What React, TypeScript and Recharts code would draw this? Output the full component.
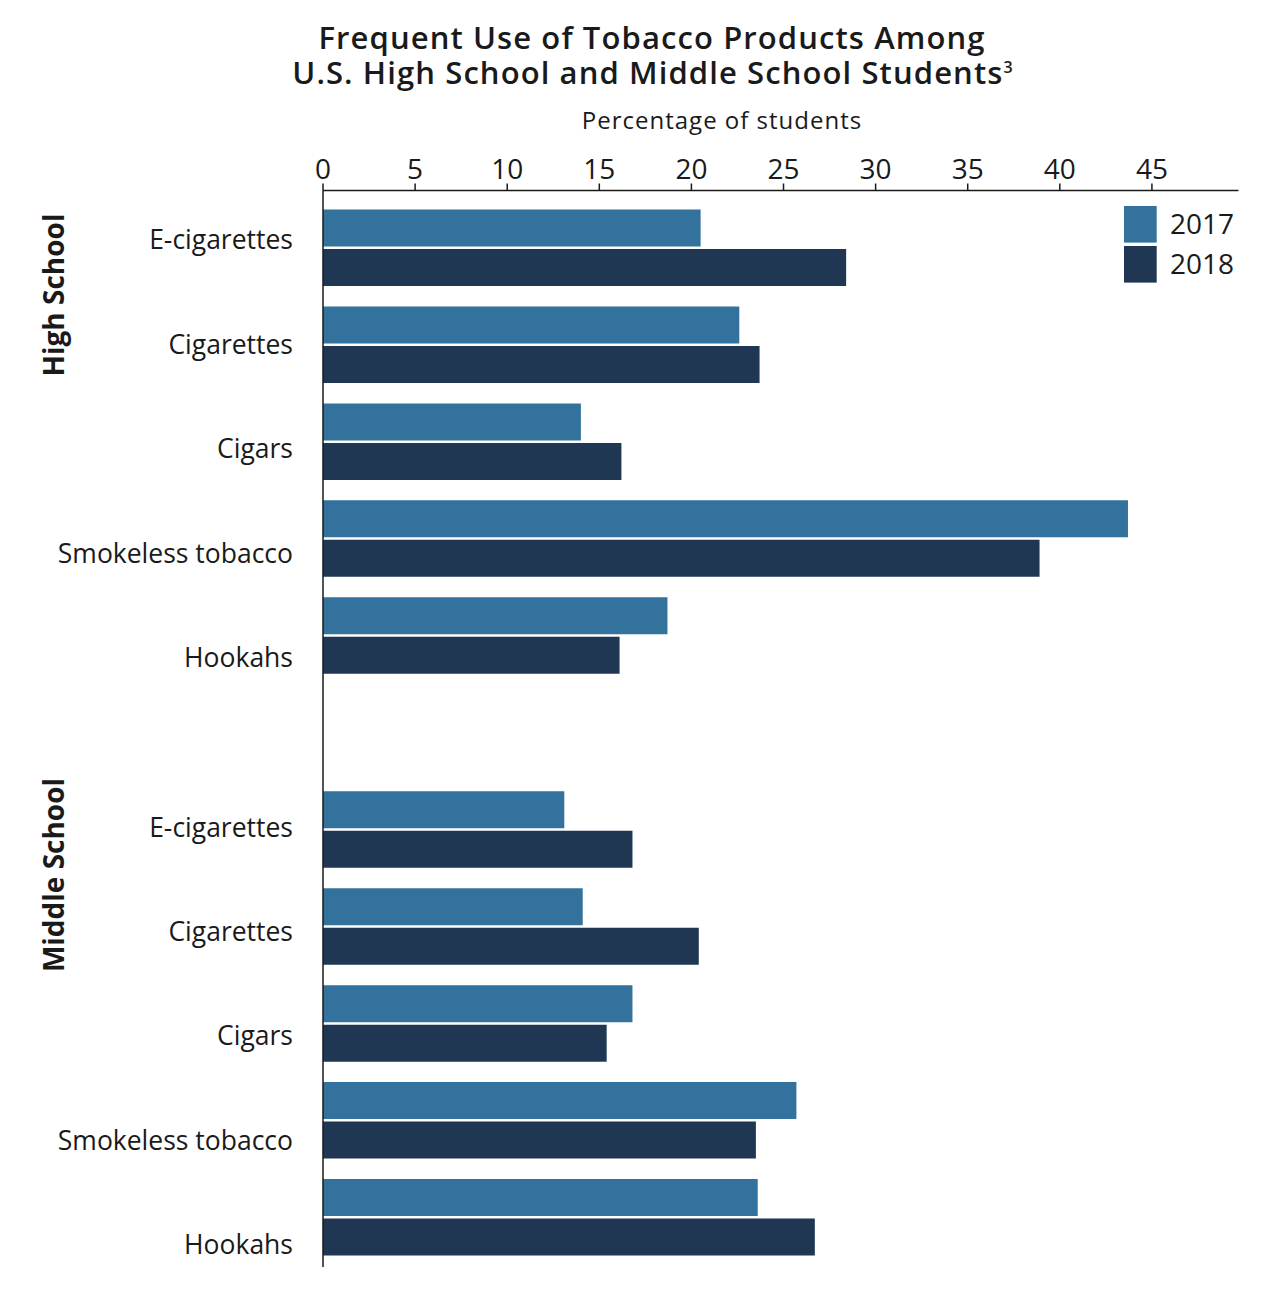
import React from 'react';
import { BarChart, Bar, XAxis, YAxis, Legend } from 'recharts';

// ---- data ----
const products = ['E-cigarettes', 'Cigarettes', 'Cigars', 'Smokeless tobacco', 'Hookahs'];
const highSchool2017 = [20.5, 22.6, 14.0, 43.7, 18.7];
const highSchool2018 = [28.4, 23.7, 16.2, 38.9, 16.1];
const middleSchool2017 = [13.1, 14.1, 16.8, 25.7, 23.6];
const middleSchool2018 = [16.8, 20.4, 15.4, 23.5, 26.7];
const groupNames = ['High School', 'Middle School'];
const seriesNames = ['2017', '2018'];
const xTicks = [0, 5, 10, 15, 20, 25, 30, 35, 40, 45];
const xMax = 49.7;

const COLOR_2017 = '#32729c';
const COLOR_2018 = '#1f3753';
const INK = '#1a1a1a';
const FONT = "'Open Sans', 'Noto Sans', sans-serif";

type Row = { key: string; label: string; group: number; pos: number; v2017?: number; v2018?: number };

const rows: Row[] = [
  ...products.map((p, i) => ({ key: `hs-${i}`, label: p, group: 0, pos: i, v2017: highSchool2017[i], v2018: highSchool2018[i] })),
  { key: 'spacer', label: '', group: -1, pos: 0 },
  ...products.map((p, i) => ({ key: `ms-${i}`, label: p, group: 1, pos: i, v2017: middleSchool2017[i], v2018: middleSchool2018[i] })),
];

// label layout: labels in the original are spaced slightly wider than bars
const LABEL_DRIFT = 7.4;
const GROUP_SHIFT = [-8, -2.5];

function ProductTick(props: any) {
  const { x, y, payload } = props;
  const row = rows.find((r) => r.key === payload.value);
  if (!row || !row.label) return <g />;
  const dy = row.pos * LABEL_DRIFT + GROUP_SHIFT[row.group];
  return (
    <text x={x} y={y + dy} dy="0.357em" textAnchor="end" fontSize={26.5} fill={INK} fontFamily={FONT}>
      {row.label}
    </text>
  );
}

function LegendContent(props: any) {
  const payload = props.payload || [];
  return (
    <svg width={150} height={80} style={{ display: 'block', overflow: 'visible' }}>
      {payload.map((entry: any, i: number) => (
        <g key={entry.value}>
          <rect x={0} y={i * 40} width={32.7} height={36.6} fill={entry.color} />
          <text x={46} y={i * 40 + 27.6} fontSize={28} fill={INK} fontFamily={FONT}>
            {entry.value}
          </text>
        </g>
      ))}
    </svg>
  );
}

export default function App() {
  return (
    <div style={{ position: 'relative', width: 1266, height: 1292, fontFamily: FONT }}>
      <BarChart
        width={1266}
        height={1292}
        data={rows}
        layout="vertical"
        margin={{ top: 142.5, right: 35.5, bottom: 33, left: 0 }}
        barCategoryGap={10}
        barGap={2.5}
      >
        <XAxis
          type="number"
          orientation="top"
          domain={[0, xMax]}
          ticks={xTicks}
          height={40}
          tickSize={7}
          tickMargin={5}
          axisLine={{ stroke: INK, strokeWidth: 1.5 }}
          tickLine={{ stroke: INK, strokeWidth: 1.5 }}
          tick={{ fontSize: 28, fill: INK, fontFamily: FONT }}
          allowDataOverflow
        />
        <YAxis
          type="category"
          dataKey="key"
          width={315}
          padding={{ top: 9, bottom: 1 }}
          axisLine={{ stroke: INK, strokeWidth: 1.5 }}
          tickLine={false}
          tickSize={0}
          tickMargin={30}
          interval={0}
          tick={(p: any) => <ProductTick {...p} />}
        />
        <Legend
          layout="vertical"
          align="center"
          verticalAlign="middle"
          content={(p: any) => <LegendContent {...p} />}
          wrapperStyle={{ left: 1116, top: 197.7, width: 150, height: 80 }}
        />
        <Bar dataKey="v2017" name={seriesNames[0]} fill={COLOR_2017} isAnimationActive={false} />
        <Bar dataKey="v2018" name={seriesNames[1]} fill={COLOR_2018} isAnimationActive={false} />
      </BarChart>
      <svg
        width={1266}
        height={1292}
        style={{ position: 'absolute', left: 0, top: 0, pointerEvents: 'none' }}
      >
        <text x={644} y={41} textAnchor="middle" fontSize={31} fontWeight={600} letterSpacing={1.1} fill={INK} fontFamily={FONT}>
          Frequent Use of Tobacco Products Among
        </text>
        <text x={645} y={76} textAnchor="middle" fontSize={31} fontWeight={600} letterSpacing={1.1} fill={INK} fontFamily={FONT}>
          U.S. High School and Middle School Students
          <tspan fontSize={16} dy={-11}>3</tspan>
        </text>
        <text x={714} y={121.3} textAnchor="middle" fontSize={24} letterSpacing={1} fill={INK} fontFamily={FONT}>
          Percentage of students
        </text>
        <text
          x={46}
          y={287}
          dy="0.357em"
          textAnchor="middle"
          fontSize={28}
          fontWeight={700}
          fill={INK}
          fontFamily={FONT}
          transform="rotate(-90 46 287)"
        >
          {groupNames[0]}
        </text>
        <text
          x={46}
          y={867}
          dy="0.357em"
          textAnchor="middle"
          fontSize={28}
          fontWeight={700}
          fill={INK}
          fontFamily={FONT}
          transform="rotate(-90 46 867)"
        >
          {groupNames[1]}
        </text>
      </svg>
    </div>
  );
}
